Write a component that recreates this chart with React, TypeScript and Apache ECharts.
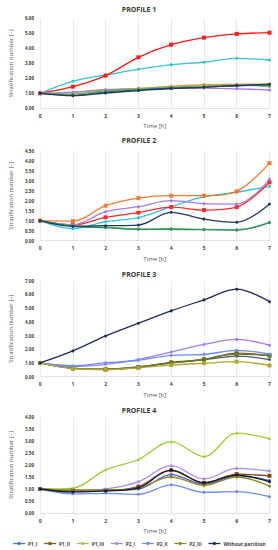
import React, { useEffect, useRef } from "react";
import * as echarts from "echarts";

const hours = [0, 1, 2, 3, 4, 5, 6, 7];
const seriesNames = ["P1_I", "P1_II", "P1_III", "P2_I", "P2_II", "P2_III", "Without partition"];
const legendColors = ["#4a6fe0", "#8b5a1e", "#9bcb3c", "#a98bf5", "#6e8cf0", "#8c8a1a", "#1f2d5a"];
const profileTitles = ["PROFILE 1", "PROFILE 2", "PROFILE 3", "PROFILE 4"];
const yMax = [6, 4.5, 7, 4];
const yStep = [1, 0.5, 1, 0.5];

const profile1 = {
  P1_I: [1.0, 1.8, 2.22, 2.6, 2.91, 3.07, 3.33, 3.22],
  P1_II: [1.0, 1.44, 2.18, 3.4, 4.24, 4.71, 4.96, 5.04],
  P1_III: [1.0, 1.05, 1.22, 1.33, 1.47, 1.58, 1.6, 1.62],
  P2_I: [1.0, 1.08, 1.25, 1.28, 1.32, 1.35, 1.3, 1.22],
  P2_II: [1.0, 0.95, 1.18, 1.3, 1.42, 1.5, 1.55, 1.45],
  P2_III: [1.0, 0.88, 1.1, 1.22, 1.35, 1.42, 1.5, 1.55],
  WP: [1.0, 0.84, 1.02, 1.18, 1.32, 1.4, 1.52, 1.6],
};
const profile2 = {
  P1_I: [1.0, 0.6, 0.95, 1.15, 1.7, 2.2, 2.43, 2.72],
  P1_II: [1.0, 0.78, 1.17, 1.4, 1.68, 1.53, 1.68, 2.92],
  P1_III: [1.0, 0.98, 1.75, 2.13, 2.25, 2.25, 2.47, 3.88],
  P2_I: [1.0, 0.8, 1.45, 1.7, 2.0, 1.85, 1.83, 3.08],
  P2_II: [1.0, 0.75, 0.68, 0.58, 0.6, 0.57, 0.55, 0.92],
  P2_III: [1.0, 0.72, 0.65, 0.57, 0.57, 0.55, 0.53, 0.9],
  WP: [1.0, 0.72, 0.75, 0.78, 1.42, 1.08, 0.92, 1.83],
};
const profile3 = {
  P1_I: [1.0, 0.62, 0.55, 0.72, 1.02, 1.22, 1.5, 1.25],
  P1_II: [1.0, 0.6, 0.52, 0.68, 1.05, 1.25, 1.72, 1.55],
  P1_III: [1.0, 0.62, 0.55, 0.7, 1.0, 1.28, 1.65, 1.55],
  P2_I: [1.0, 0.75, 0.9, 1.25, 1.8, 2.35, 2.72, 2.3],
  P2_II: [1.0, 0.8, 1.02, 1.2, 1.55, 1.62, 1.92, 1.65],
  P2_III: [1.0, 0.58, 0.52, 0.65, 0.85, 0.98, 1.1, 0.82],
  WP: [1.0, 1.88, 2.97, 3.9, 4.8, 5.6, 6.38, 5.47],
};
const profile4 = {
  P1_I: [1.0, 0.9, 0.95, 1.0, 1.6, 1.2, 1.55, 1.35],
  P1_II: [1.0, 0.95, 0.95, 1.1, 1.78, 1.25, 1.62, 1.55],
  P1_III: [1.0, 1.04, 1.8, 2.23, 2.97, 2.35, 3.33, 3.1],
  P2_I: [1.0, 0.88, 1.0, 1.3, 1.97, 1.42, 1.86, 1.75],
  P2_II: [1.0, 0.8, 0.82, 0.78, 1.17, 0.86, 0.89, 0.68],
  P2_III: [1.0, 0.95, 0.95, 1.05, 1.5, 1.15, 1.5, 1.12],
  WP: [1.0, 0.88, 0.92, 1.05, 1.79, 1.26, 1.58, 1.3],
};
const profiles = [profile1, profile2, profile3, profile4];
const keys = ["P1_I", "P1_II", "P1_III", "P2_I", "P2_II", "P2_III", "WP"];

const profileColors = [
  ["#33c4d0", "#ff1a1a", "#f08a3a", "#a07cf0", "#6fb84a", "#2e7d5a", "#1f3864"],
  ["#26c6da", "#ff2a2a", "#ed7d31", "#a07cf0", "#70c050", "#2e8b6a", "#1f3864"],
  ["#4a5580", "#a0522d", "#5e7a1f", "#9d7cf5", "#6a8ef5", "#b0a830", "#1f2a5a"],
  ["#3f5fd0", "#8b4513", "#9acd32", "#a98bf5", "#6c8ef0", "#8c8a1a", "#1a1a2e"],
];
const profileSymbols = [
  ["circle", "rect", "circle", "circle", "circle", "circle", "circle"],
  ["circle", "rect", "rect", "circle", "circle", "circle", "circle"],
  ["circle", "rect", "rect", "circle", "circle", "rect", "circle"],
  ["circle", "rect", "triangle", "circle", "circle", "circle", "circle"],
];

const gridTops = [18.3, 150.7, 280.7, 417];
const gridHeights = [90, 90, 96, 96];
const titleTops = [1, 132, 266, 402];

const FONT = "Open Sans";

export default function App() {
  const ref = useRef<HTMLDivElement>(null);
  useEffect(() => {
    document.body.style.margin = "0";
    const chart = echarts.init(ref.current!, undefined, { renderer: "svg" });
    const grid: any[] = [];
    const xAxis: any[] = [];
    const yAxis: any[] = [];
    const series: any[] = [];
    const title: any[] = [];
    profiles.forEach((p: any, gi) => {
      grid.push({ left: 30, right: 8.5, top: gridTops[gi], height: gridHeights[gi], containLabel: false });
      title.push({
        text: profileTitles[gi],
        left: "center",
        top: titleTops[gi],
        textStyle: { fontFamily: FONT, fontSize: 7, fontWeight: "bold", color: "#3a3a3a" },
      });
      xAxis.push({
        type: "value",
        gridIndex: gi,
        min: 0,
        max: 7,
        interval: 1,
        name: "Time [h]",
        nameLocation: "middle",
        nameGap: 15,
        nameTextStyle: { fontFamily: FONT, fontSize: 6, color: "#555" },
        axisLine: { show: true, lineStyle: { color: "#d9d9d9", width: 0.8 } },
        axisTick: { show: false },
        axisLabel: { fontFamily: FONT, fontSize: 5, fontWeight: "bold", color: "#404040", margin: 5 },
        splitLine: { show: true, lineStyle: { color: "#e4e4e4", width: 0.8 } },
      });
      yAxis.push({
        type: "value",
        gridIndex: gi,
        min: 0,
        max: yMax[gi],
        interval: yStep[gi],
        name: "Stratification number [\u2013]",
        nameLocation: "middle",
        nameGap: 21,
        nameTextStyle: { fontFamily: FONT, fontSize: 6, color: "#555" },
        axisLine: { show: false },
        axisTick: { show: false },
        axisLabel: {
          fontFamily: FONT,
          fontSize: 4.6,
          fontWeight: "bold",
          color: "#404040",
          margin: 6,
          formatter: (v: number) => v.toFixed(2),
        },
        splitLine: { show: false },
      });
      keys.forEach((k, si) => {
        series.push({
          type: "line",
          name: seriesNames[si],
          xAxisIndex: gi,
          yAxisIndex: gi,
          smooth: 0.35,
          data: hours.map((h, i) => [h, p[k][i]]),
          symbol: profileSymbols[gi][si],
          symbolSize: profileSymbols[gi][si] === "rect" ? 4 : 3,
          lineStyle: { color: profileColors[gi][si], width: 1.3 },
          itemStyle: { color: profileColors[gi][si] },
          z: si === 6 ? 3 : 2,
        });
      });
    });
    chart.setOption({
      animation: false,
      backgroundColor: "#ffffff",
      title,
      grid,
      xAxis,
      yAxis,
      series,
      legend: {
        top: 541,
        left: "center",
        width: 276,
        padding: 0,
        itemWidth: 12,
        itemHeight: 4,
        itemGap: 6,
        textStyle: { fontFamily: FONT, fontSize: 4.8, fontWeight: "bold", color: "#404040", padding: [0, 0, 0, -2] },
        data: seriesNames.map((n, i) => ({
          name: n,
          itemStyle: { color: legendColors[i] },
          lineStyle: { color: legendColors[i], width: 1.3 },
        })),
      },
    });
    return () => chart.dispose();
  }, []);
  return <div ref={ref} style={{ position: "absolute", left: 0, top: 0, width: 278, height: 550 }} />;
}
